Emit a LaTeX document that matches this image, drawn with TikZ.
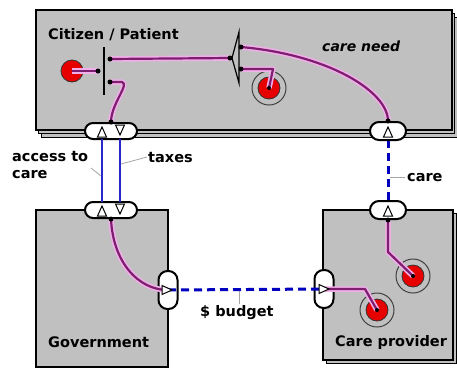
\documentclass[tikz,border=0pt]{standalone}
\usepackage{fontspec}
\setmainfont{DejaVu Sans}
\usetikzlibrary{shapes.geometric,shapes.misc}
\definecolor{boxgray}{RGB}{192,192,192}
\definecolor{flowdark}{RGB}{125,30,110}
\definecolor{flowlight}{RGB}{240,175,232}
\definecolor{ballred}{RGB}{230,0,0}
\definecolor{linkblue}{RGB}{40,40,200}
\definecolor{dashblue}{RGB}{0,0,190}
\tikzset{
  x=1pt,y=-1pt,
  sysbox/.style={draw=black,line width=1.2pt,fill=boxgray,rectangle,inner sep=0pt},
  shadowbox/.style={draw=black,line width=1pt,fill=boxgray,rectangle,inner sep=0pt},
  hport/.style={draw=black,line width=2pt,fill=white,rounded rectangle,minimum width=52pt,minimum height=16pt,inner sep=0pt},
  sport/.style={draw=black,line width=2pt,fill=white,rounded rectangle,minimum width=36pt,minimum height=18pt,inner sep=0pt},
  vport/.style={draw=black,line width=2pt,fill=white,rounded corners=9pt,rectangle,minimum width=19pt,minimum height=38pt,inner sep=0pt},
  tristyle/.style={draw=black,line width=1pt,fill=white,line join=miter},
  uptri/.pic={\draw[tristyle] (-4.5,5) -- (0,-5) -- (4.5,5) -- cycle;},
  downtri/.pic={\draw[tristyle] (-4.5,-5) -- (0,5) -- (4.5,-5) -- cycle;},
  righttri/.pic={\draw[tristyle] (-5,-4.5) -- (5,0) -- (-5,4.5) -- cycle;},
  flowbg/.style={draw=flowlight,line width=5.5pt,line join=round},
  flowfg/.style={draw=flowdark,line width=2.2pt,line join=round},
  link/.style={draw=linkblue,line width=2pt},
  dlink/.style={draw=dashblue,line width=3pt,dash pattern=on 8pt off 5pt},
  leader/.style={draw=gray!70,line width=0.8pt},
  dot/.style={circle,fill=black,inner sep=0pt,minimum size=5pt},
  ball/.style={circle,draw=black!80,line width=0.8pt,fill=ballred,minimum size=22pt,inner sep=0pt},
  ring/.style={circle,draw=black!75,line width=1pt,fill=boxgray,minimum size=34pt,inner sep=0pt},
  lbl/.style={font=\bfseries\fontsize{14.5}{17}\selectfont,inner sep=0pt,anchor=west},
}
\begin{document}
\begin{tikzpicture}
\useasboundingbox[fill=white] (0,0) rectangle (457,368);
% --- top box (stacked)
\node[shadowbox,minimum width=416pt,minimum height=120pt] (citsh2) at (249,77) {};
\node[shadowbox,minimum width=416pt,minimum height=120pt] (citsh1) at (246.5,73.5) {};
\node[sysbox,minimum width=416pt,minimum height=120pt] (cit) at (244,70) {};
% --- government
\node[sysbox,minimum width=132pt,minimum height=157pt] (gov) at (102,288.5) {};
% --- care provider
\node[shadowbox,minimum width=130pt,minimum height=150pt] (provsh) at (391,288) {};
\node[sysbox,minimum width=130pt,minimum height=150pt] (prov) at (388,285) {};

% titles
\node[lbl] (tcit) at (48,35) {Citizen / Patient};
\node[lbl,font=\bfseries\itshape\fontsize{14}{17}\selectfont] (tneed) at (322,46) {care need};
\node[lbl] (tgov) at (48,342) {Government};
\node[lbl] (tprov) at (335,342) {Care provider};

% balls
\node[ball] (b1) at (72,71) {};
\node[ring] (r2) at (269,88) {};
\node[ball] (b2) at (269,88) {};
\node[ring] (r3) at (377,310) {};
\node[ball] (b3) at (377,310) {};
\node[ring] (r4) at (413,276) {};
\node[ball] (b4) at (413,276) {};

% splitter and joiner coordinates
\coordinate (s1) at (98,71);
\coordinate (s2) at (110,59);
\coordinate (s3) at (110,82);
\coordinate (s1a) at (104,47);
\coordinate (s1b) at (104,95);
\coordinate (j0) at (230,58);
\coordinate (japex) at (232,58);
\coordinate (jt) at (239,32);
\coordinate (jb) at (239,83);
\coordinate (j1) at (241,47);
\coordinate (j2) at (241,69);

% ports
\node[hport] (pc1) at (111,131) {};
\node[hport] (pg1) at (111,210) {};
\node[sport] (pc2) at (388,131) {};
\node[sport] (pp1) at (388,210) {};
\node[vport] (pg2) at (168,290) {};
\node[vport] (pp2) at (324,289) {};

% flows (pink)
\foreach \st in {flowbg,flowfg}{
  \draw[\st] (b1.center) -- (s1);
  \draw[\st] (s2) -- (j0);
  \draw[\st] (s3) -- (122,82) .. controls (130,84) and (111,104) .. (pc1.north);
  \draw[\st] (j1) .. controls (330,55) and (388,92) .. (pc2.north);
  \draw[\st] (j2) -- (273,69) -- (b2.center);
  \draw[\st] (pg1.south) .. controls (113,262) and (138,290) .. (pg2.center);
  \draw[\st] (pp2.center) -- (365,289) -- (b3.center);
  \draw[\st] (pp1.south) -- (388,252) -- (b4.center);
}
% centre dots of balls
\foreach \b in {b2,b3,b4}{ \fill (\b.center) circle (2pt); }

% splitter / joiner
\draw[line width=1.2pt] (s1a) -- (s1b);
\draw[line width=1.2pt,line join=miter] (jt) -- (japex) -- (jb) -- cycle;
\foreach \p in {s1,s2,s3,j0,j1,j2}{ \node[dot] at (\p) {}; }
\node[dot] at (pc1.north) {};
\node[dot] at (pg1.south) {};
\node[dot] at (pc2.north) {};
\node[dot] at (pp1.south) {};

% links (blue)
\coordinate (acTop) at (102,139);
\coordinate (acBot) at (102,202);
\coordinate (txTop) at (120,139);
\coordinate (txBot) at (120,202);
\draw[link] (acBot) -- (acTop);
\draw[link] (txTop) -- (txBot);
\draw[dlink] (pp1.north) -- (pc2.south);
\draw[dlink] (pg2.center) -- (pp2.center);

% triangles in ports
\pic at (102,132) {uptri};
\pic at (102,211) {uptri};
\pic at (120,130) {downtri};
\pic at (120,209) {downtri};
\pic at (388,132) {uptri};
\pic at (388,211) {uptri};
\pic at (167,290) {righttri};
\pic at (324,289) {righttri};

% labels
\node[lbl,align=left,anchor=north west] (lacc) at (12,151) {access to\\care};
\node[lbl] (ltax) at (148,158) {taxes};
\node[lbl] (lcare) at (407,178) {care};
\node[lbl] (lbud) at (200,313) {\$ budget};
\draw[leader] (91,168) -- (101,176);
\draw[leader] (147,157) -- (121,164);
\draw[leader] (405,177) -- (390,177);
\draw[leader] (239,291) -- (239,304);
\end{tikzpicture}
\end{document}
